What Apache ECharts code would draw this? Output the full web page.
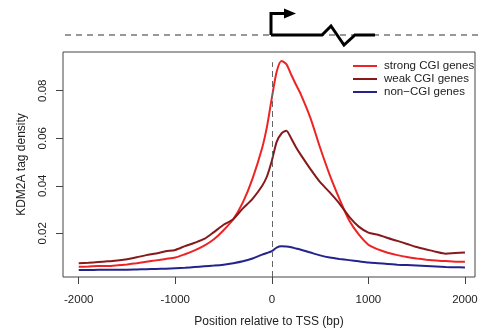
<!DOCTYPE html>
<html><head><meta charset="utf-8">
<script src="https://cdn.jsdelivr.net/npm/echarts@6/dist/echarts.min.js"></script>
<style>html,body{margin:0;padding:0;background:#fff}#c{width:481px;height:333px}</style>
</head><body><div id="c"></div>
<script>
// Position relative to TSS (bp)
const positions = [-2000,-1900,-1800,-1700,-1600,-1500,-1400,-1300,-1200,-1100,-1000,-900,-800,-700,-600,-500,-400,-300,-200,-100,-50,0,50,100,150,200,250,300,400,500,600,700,800,900,1000,1100,1200,1300,1400,1500,1600,1700,1800,1900,2000];
const strongCGI = [0.0059,0.0060,0.0062,0.0062,0.0065,0.0069,0.0074,0.0080,0.0086,0.0092,0.0098,0.0112,0.0128,0.0148,0.0175,0.0213,0.0259,0.0330,0.0430,0.0560,0.0650,0.0770,0.0880,0.0925,0.0912,0.0868,0.0825,0.0785,0.0685,0.0560,0.0445,0.0345,0.0255,0.0195,0.0152,0.0132,0.0118,0.0108,0.0100,0.0094,0.0089,0.0085,0.0083,0.0080,0.0080];
const weakCGI = [0.0074,0.0076,0.0079,0.0082,0.0085,0.0091,0.0099,0.0108,0.0115,0.0124,0.0130,0.0146,0.0160,0.0176,0.0205,0.0236,0.0259,0.0305,0.0345,0.0400,0.0440,0.0505,0.0585,0.0620,0.0632,0.0600,0.0562,0.0530,0.0470,0.0415,0.0372,0.0325,0.0270,0.0228,0.0203,0.0194,0.0180,0.0168,0.0155,0.0142,0.0132,0.0122,0.0114,0.0117,0.0119];
const nonCGI = [0.0045,0.0045,0.0046,0.0046,0.0047,0.0047,0.0048,0.0049,0.0050,0.0051,0.0053,0.0055,0.0058,0.0061,0.0064,0.0068,0.0074,0.0082,0.0094,0.0110,0.0117,0.0125,0.0140,0.0145,0.0144,0.0141,0.0136,0.0131,0.0119,0.0107,0.0098,0.0092,0.0087,0.0082,0.0077,0.0074,0.0071,0.0068,0.0066,0.0064,0.0062,0.0060,0.0058,0.0057,0.0056];
const seriesNames = ['strong CGI genes','weak CGI genes','non\u2212CGI genes'];
const xTicks = [-2000,-1000,0,1000,2000];
const yTicks = [0.02,0.04,0.06,0.08];

const colors = ['#ee2424','#86191b','#24238c'];
const pair = vals => positions.map((p,i)=>[p, vals[i]]);
const font = 'Liberation Sans, Arial, sans-serif';
const chart = echarts.init(document.getElementById('c'), null, {renderer:'canvas'});
const lineSeries = (name, vals, color) => ({
  name, type:'line', data: pair(vals), showSymbol:false, symbol:'none', smooth:0.25,
  lineStyle:{color, width:2}, itemStyle:{color}, animation:false, z:3
});
const s0 = lineSeries(seriesNames[0], strongCGI, colors[0]);
s0.markLine = {silent:true, symbol:'none', label:{show:false},
  lineStyle:{color:'#666', type:[6,4], width:1},
  data:[[{coord:[0,0.0016]},{coord:[0,0.092]}]]};
chart.setOption({
  animation:false,
  grid:{left:63, right:6, top:52, bottom:55, show:true, borderColor:'#444', borderWidth:1, backgroundColor:'#fff'},
  legend:{orient:'vertical', left:348, top:55, itemWidth:24, itemHeight:2, icon:'rect', itemGap:1,
    textStyle:{fontFamily:font, fontSize:11.5, color:'#222', padding:[0,0,0,2]},
    data:seriesNames},
  xAxis:{type:'value', min:-2163, max:2104,
    axisLine:{show:false, onZero:false},
    axisTick:{show:true, customValues:xTicks, length:7, lineStyle:{color:'#444'}},
    axisLabel:{customValues:xTicks, fontFamily:font, fontSize:11.5, color:'#222', margin:17, formatter:v=>String(v)},
    splitLine:{show:false},
    name:'Position relative to TSS (bp)', nameLocation:'middle', nameGap:39,
    nameTextStyle:{fontFamily:font, fontSize:12, color:'#222'}},
  yAxis:{type:'value', min:0.0016, max:0.0963,
    axisLine:{show:false, onZero:false},
    axisTick:{show:true, customValues:yTicks, length:7, lineStyle:{color:'#444'}},
    axisLabel:{customValues:yTicks, rotate:90, fontFamily:font, fontSize:11.5, color:'#222', margin:14, formatter:v=>v.toFixed(2)},
    splitLine:{show:false},
    name:'KDM2A tag density', nameLocation:'middle', nameGap:35,
    nameTextStyle:{fontFamily:font, fontSize:12, color:'#222'}},
  series:[s0, lineSeries(seriesNames[1], weakCGI, colors[1]), lineSeries(seriesNames[2], nonCGI, colors[2])],
  graphic:[
    {type:'line', shape:{x1:65,y1:35,x2:481,y2:35}, style:{stroke:'#777', lineWidth:1.3, lineDash:[6,5]}, z:1},
    {type:'polyline', shape:{points:[[271,35],[271,13.5],[287,13.5]]}, style:{stroke:'#000', lineWidth:3, fill:null}, z:2},
    {type:'polygon', shape:{points:[[284,8.5],[296,13.5],[284,18.5]]}, style:{fill:'#000'}, z:2},
    {type:'polyline', shape:{points:[[271,35],[322,35],[331,26],[344,45],[355,35],[375,35]]}, style:{stroke:'#000', lineWidth:3, fill:null, lineJoin:'miter'}, z:2}
  ]
});
</script></body></html>
